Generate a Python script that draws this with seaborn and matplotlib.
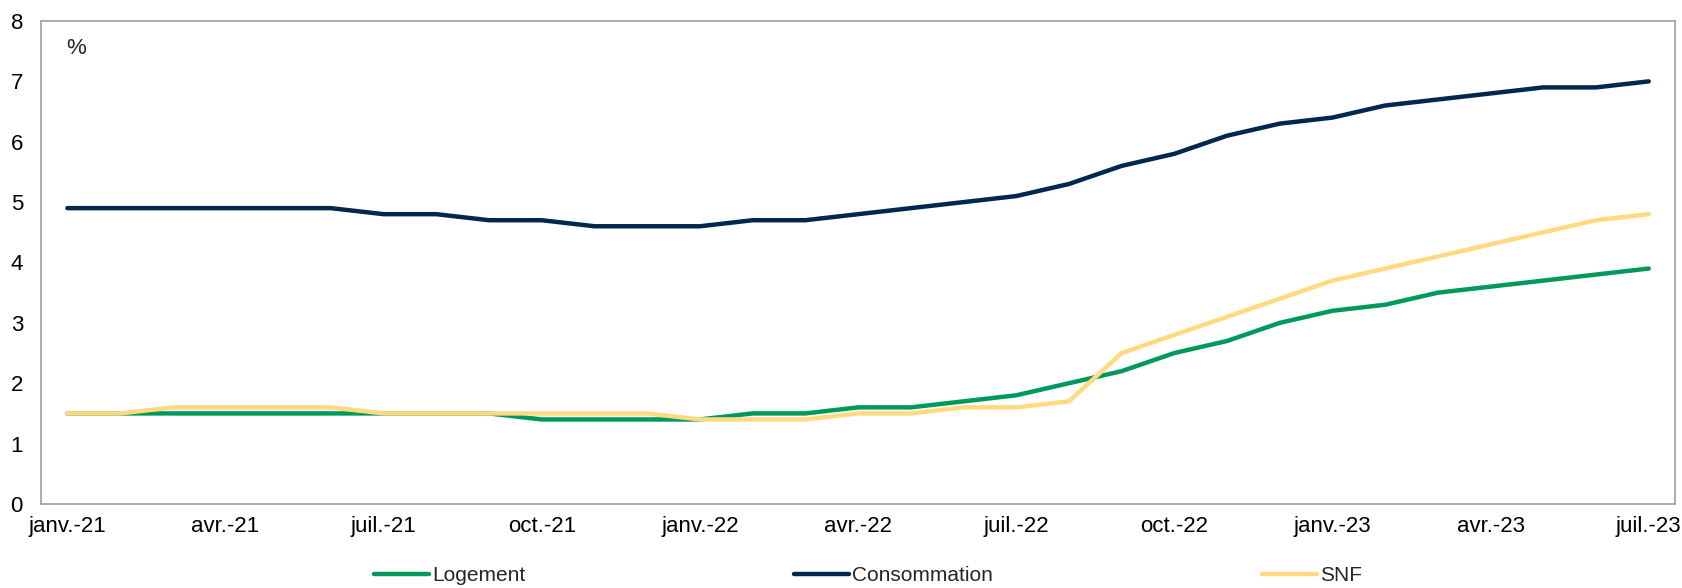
import matplotlib
matplotlib.use("Agg")
import matplotlib.pyplot as plt
import seaborn as sns
import pandas as pd
import numpy as np

months = ["janv.", "févr.", "mars", "avr.", "mai", "juin",
          "juil.", "août", "sept.", "oct.", "nov.", "déc."]
dates = [f"{months[(i) % 12]}-{21 + i // 12}" for i in range(31)]

logement = [1.5, 1.5, 1.5, 1.5, 1.5, 1.5, 1.5, 1.5, 1.5, 1.4, 1.4, 1.4, 1.4,
            1.5, 1.5, 1.6, 1.6, 1.7, 1.8, 2.0, 2.2, 2.5, 2.7, 3.0, 3.2, 3.3,
            3.5, 3.6, 3.7, 3.8, 3.9]
consommation = [4.9, 4.9, 4.9, 4.9, 4.9, 4.9, 4.8, 4.8, 4.7, 4.7, 4.6, 4.6,
                4.6, 4.7, 4.7, 4.8, 4.9, 5.0, 5.1, 5.3, 5.6, 5.8, 6.1, 6.3,
                6.4, 6.6, 6.7, 6.8, 6.9, 6.9, 7.0]
snf = [1.5, 1.5, 1.6, 1.6, 1.6, 1.6, 1.5, 1.5, 1.5, 1.5, 1.5, 1.5, 1.4, 1.4,
       1.4, 1.5, 1.5, 1.6, 1.6, 1.7, 2.5, 2.8, 3.1, 3.4, 3.7, 3.9, 4.1, 4.3,
       4.5, 4.7, 4.8]

series_names = ["Logement", "Consommation", "SNF"]
colors = ["#00995C", "#00284E", "#FFDA80"]

df = pd.DataFrame({
    "idx": np.tile(np.arange(len(dates)), 3),
    "value": logement + consommation + snf,
    "serie": np.repeat(series_names, len(dates)),
})

sns.set_style("white")
plt.rcParams["font.family"] = ["Liberation Sans", "DejaVu Sans"]

fig = plt.figure(figsize=(16.82, 5.88), dpi=100)
ax = fig.add_axes([0.0244, 0.1429, 0.9715, 0.8214])

sns.lineplot(data=df, x="idx", y="value", hue="serie",
             hue_order=series_names, palette=colors, linewidth=3.2,
             ax=ax, legend=True)

ax.set_xlim(-0.5, len(dates) - 0.5)
ax.set_ylim(0, 8)
ax.set_yticks(range(0, 9))
tick_pos = list(range(0, len(dates), 3))
ax.set_xticks(tick_pos)
ax.set_xticklabels([dates[i] for i in tick_pos])
ax.set_xlabel("")
ax.set_ylabel("")
ax.tick_params(axis="y", length=0, pad=13, labelsize=16, colors="black")
ax.tick_params(axis="x", length=0, pad=8.5, labelsize=16, colors="black")

for s in ax.spines.values():
    s.set_visible(True)
    s.set_color("#A6A6A6")
    s.set_linewidth(1.3)

ax.text(0.0214, 0.944, "%", transform=ax.transAxes, fontsize=16,
        ha="center", va="center")

handles, labels = ax.get_legend_handles_labels()
ax.legend(handles, labels, loc="center", bbox_to_anchor=(0.506, -0.149),
          ncol=3, frameon=False, fontsize=15, handlelength=2.65,
          handletextpad=0.15, columnspacing=12.9)

fig.savefig("out.png", dpi=100)
